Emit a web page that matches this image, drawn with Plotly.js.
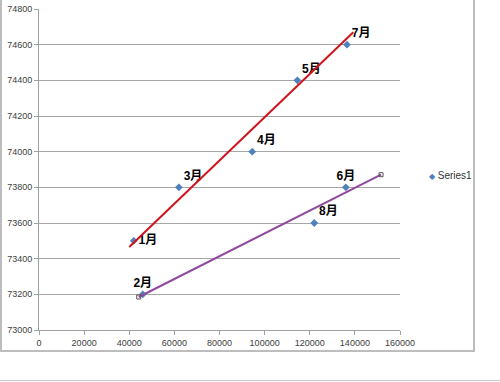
<!DOCTYPE html>
<html>
<head>
<meta charset="utf-8">
<script src="https://cdn.plot.ly/plotly-3.0.1.min.js"></script>
<style>
  html, body { margin: 0; padding: 0; background: #fff; }
  #wrap { position: relative; width: 500px; height: 382px; overflow: hidden; }
  #chart { position: absolute; left: 0; top: 0; width: 500px; height: 382px; }
  #frame { position: absolute; left: 0; top: -2px; width: 475px; height: 354px;
           border-left: 2px solid #bdbdbd; border-right: 2px solid #bdbdbd; border-bottom: 2px solid #bdbdbd;
           box-sizing: border-box; pointer-events: none; }
  #bottomline { position: absolute; left: 0; top: 380px; width: 500px; height: 0;
                border-top: 1px solid #c8c8c8; pointer-events: none; }
</style>
</head>
<body>
<div id="wrap">
  <div id="chart"></div>
  <div id="frame"></div>
  <div id="bottomline"></div>
</div>
<script>
// Data points
const months = ['1月', '2月', '3月', '4月', '5月', '6月', '7月', '8月'];
const xValues = [42000, 46000, 62000, 94500, 114500, 136000, 136500, 122000];
const yValues = [73500, 73200, 73800, 74000, 74400, 73800, 74600, 73600];

// Straight lines drawn over the points (end points)
const redLineX = [40000, 139300];
const redLineY = [73465, 74670];
const purpleLineX = [44200, 151600];
const purpleLineY = [73185, 73871];

// Axis settings
const xTicks = [0, 20000, 40000, 60000, 80000, 100000, 120000, 140000, 160000];
const yTicks = [73000, 73200, 73400, 73600, 73800, 74000, 74200, 74400, 74600, 74800];

const labelPositions = ['middle right', 'top center', 'top right', 'top right',
                        'top right', 'top center', 'top right', 'top right'];

const labelFont = { family: 'Liberation Sans, "Noto Sans CJK SC", sans-serif', size: 12, color: '#000000', weight: 'bold' };
const tickFont = { family: 'Liberation Sans, sans-serif', size: 9, color: '#404040' };

const traces = [
  {
    type: 'scatter', mode: 'markers+text', name: 'Series1',
    x: xValues, y: yValues,
    text: months.map(m => '<b>' + m + '</b>'),
    textposition: labelPositions,
    textfont: labelFont,
    marker: { symbol: 'diamond', size: 6, color: '#4F81BD', line: { width: 0 } },
    showlegend: false, cliponaxis: false, hoverinfo: 'skip'
  },
  {
    type: 'scatter', mode: 'lines', x: redLineX, y: redLineY,
    line: { color: '#D0141E', width: 2 }, showlegend: false, hoverinfo: 'skip'
  },
  {
    type: 'scatter', mode: 'lines+markers', x: purpleLineX, y: purpleLineY,
    line: { color: '#8E4B9E', width: 2 },
    marker: { symbol: 'square-open', size: 4, color: '#555555', line: { width: 1 } },
    showlegend: false, hoverinfo: 'skip', cliponaxis: false
  }
];

const layout = {
  width: 500, height: 382,
  margin: { l: 39, r: 100, t: 9, b: 52 },
  paper_bgcolor: '#ffffff', plot_bgcolor: '#ffffff',
  showlegend: false,
  xaxis: {
    range: [0, 160000], tickvals: xTicks, ticktext: xTicks.map(String),
    showgrid: false, zeroline: false,
    showline: true, linecolor: '#a0a0a0', linewidth: 1,
    ticks: 'outside', ticklen: 4, tickcolor: '#a0a0a0', tickfont: tickFont
  },
  yaxis: {
    range: [73000, 74800], tickvals: yTicks, ticktext: yTicks.map(String),
    showgrid: true, gridcolor: '#a6a6a6', gridwidth: 1, zeroline: false,
    showline: true, linecolor: '#a0a0a0', linewidth: 1,
    ticks: 'outside', ticklen: 4, tickcolor: '#a0a0a0', tickfont: tickFont
  },
  annotations: [
    {
      xref: 'paper', yref: 'paper', x: 1.075, y: 0.48, xanchor: 'left', yanchor: 'middle',
      showarrow: false,
      text: '<span style="color:#4F81BD;font-size:8px">◆</span> Series1',
      font: { family: 'Liberation Sans, sans-serif', size: 10, color: '#333333' }
    }
  ]
};

Plotly.newPlot('chart', traces, layout, { displayModeBar: false, staticPlot: true });
</script>
</body>
</html>
